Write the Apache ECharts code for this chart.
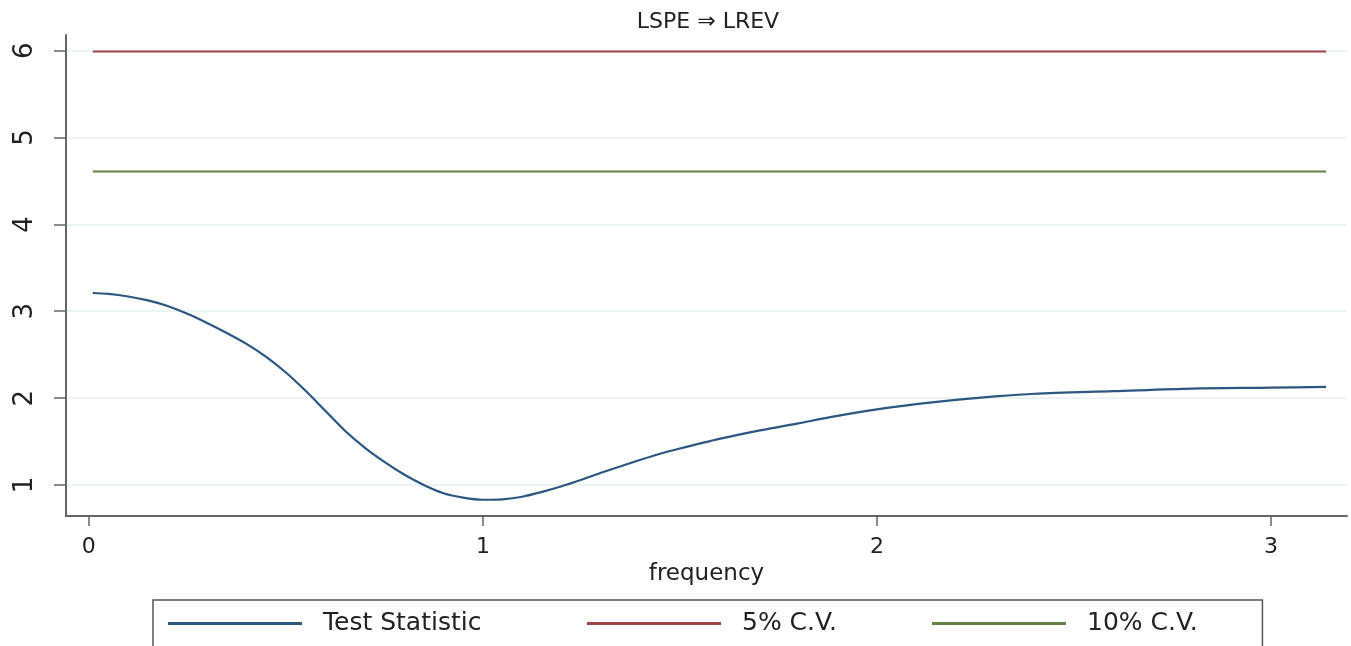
<!DOCTYPE html>
<html>
<head>
<meta charset="utf-8">
<script src="https://cdn.jsdelivr.net/npm/echarts@6/dist/echarts.min.js"></script>
<style>
    html, body { margin: 0; padding: 0; background: #fff; }
    #chart1 { width: 1351px; height: 646px; }
</style>
</head>
<body>
<div id="chart1"></div>
<script>
// frequency grid and test statistic values
var freq = [0.01, 0.05, 0.1, 0.15, 0.2, 0.25, 0.3, 0.35, 0.4, 0.45, 0.5, 0.55, 0.6, 0.65, 0.7, 0.75,
            0.8, 0.85, 0.9, 0.95, 1.0, 1.05, 1.1, 1.15, 1.2, 1.25, 1.3, 1.35, 1.4, 1.45, 1.5,
            1.6, 1.7, 1.8, 1.9, 2.0, 2.1, 2.2, 2.3, 2.4, 2.6, 2.8, 3.0, 3.14];
var testStat = [3.21, 3.20, 3.17, 3.125, 3.06, 2.97, 2.865, 2.75, 2.625, 2.475, 2.295, 2.085, 1.855, 1.625, 1.43, 1.265,
                1.12, 1.0, 0.905, 0.855, 0.83, 0.835, 0.865, 0.92, 0.985, 1.06, 1.14, 1.215, 1.29, 1.36, 1.42,
                1.53, 1.625, 1.71, 1.795, 1.87, 1.93, 1.98, 2.02, 2.05, 2.08, 2.11, 2.12, 2.13];
// critical values, drawn across the frequency range
var cvFreq = [0.01, 3.14];
var cv5 = [5.99, 5.99];
var cv10 = [4.61, 4.61];
var xTicks = [0, 1, 2, 3];
var yTicks = [1, 2, 3, 4, 5, 6];
var seriesNames = ['Test Statistic', '5% C.V.', '10% C.V.'];

function pairs(xs, ys) {
    var out = [];
    for (var i = 0; i < xs.length; i++) out.push([xs[i], ys[i]]);
    return out;
}

var font = 'DejaVu Sans, Liberation Sans, sans-serif';

// one legend per key so each one sits where it is in the picture;
// the first one carries the frame round the whole row
function keyLegend(name, left, framed) {
    var lg = {
        data: [name],
        left: left,
        top: framed ? 600 : 611,
        padding: framed ? [11, 781, 14, 15] : 0,
        borderColor: '#555',
        borderWidth: framed ? 1.5 : 0,
        itemWidth: 134,
        itemHeight: 3,
        icon: 'rect',
        formatter: '{s|}{name}',
        textStyle: {
            fontFamily: font, fontSize: 25, color: '#222',
            rich: { s: { width: 16 } }
        }
    };
    return lg;
}

var myChart = echarts.init(document.getElementById('chart1'));
var option = {
    backgroundColor: '#ffffff',
    animation: false,
    title: {
        text: 'LSPE \u21D2 LREV',
        left: 703,
        top: 6,
        textAlign: 'center',
        textStyle: { fontFamily: font, fontSize: 22, fontWeight: 'normal', color: '#222' }
    },
    legend: [
        keyLegend(seriesNames[0], 153, true),
        keyLegend(seriesNames[1], 587, false),
        keyLegend(seriesNames[2], 932, false)
    ],
    grid: { left: 66, right: 4, top: 35, bottom: 130 },
    xAxis: {
        type: 'value',
        min: -0.058,
        max: 3.193,
        name: 'frequency',
        nameLocation: 'middle',
        nameGap: 47,
        nameTextStyle: { fontFamily: font, fontSize: 23, color: '#222' },
        axisLine: { onZero: false, lineStyle: { color: '#666', width: 2 } },
        axisTick: { customValues: xTicks, length: 10, lineStyle: { color: '#666', width: 1.5 } },
        axisLabel: { customValues: xTicks, margin: 20, fontFamily: font, fontSize: 22, color: '#222' },
        splitLine: { show: false }
    },
    yAxis: {
        type: 'value',
        min: 0.643,
        max: 6.18,
        axisLine: { show: true, onZero: false, lineStyle: { color: '#666', width: 2 } },
        axisTick: { show: true, customValues: yTicks, length: 12, lineStyle: { color: '#666', width: 1.5 } },
        axisLabel: { customValues: yTicks, rotate: 90, margin: 28, fontFamily: font, fontSize: 26, color: '#222' },
        splitLine: { show: true, lineStyle: { color: '#e6eff1', width: 1.5 } }
    },
    series: [
        {
            name: seriesNames[0],
            type: 'line',
            data: pairs(freq, testStat),
            smooth: 0.3,
            showSymbol: false,
            color: '#2c5782',
            lineStyle: { width: 2.2, color: '#2c5782' }
        },
        {
            name: seriesNames[1],
            type: 'line',
            data: pairs(cvFreq, cv5),
            showSymbol: false,
            color: '#a0444b',
            lineStyle: { width: 2, color: '#a0444b' }
        },
        {
            name: seriesNames[2],
            type: 'line',
            data: pairs(cvFreq, cv10),
            showSymbol: false,
            color: '#65843f',
            lineStyle: { width: 2, color: '#65843f' }
        }
    ]
};
myChart.setOption(option);
</script>
</body>
</html>
